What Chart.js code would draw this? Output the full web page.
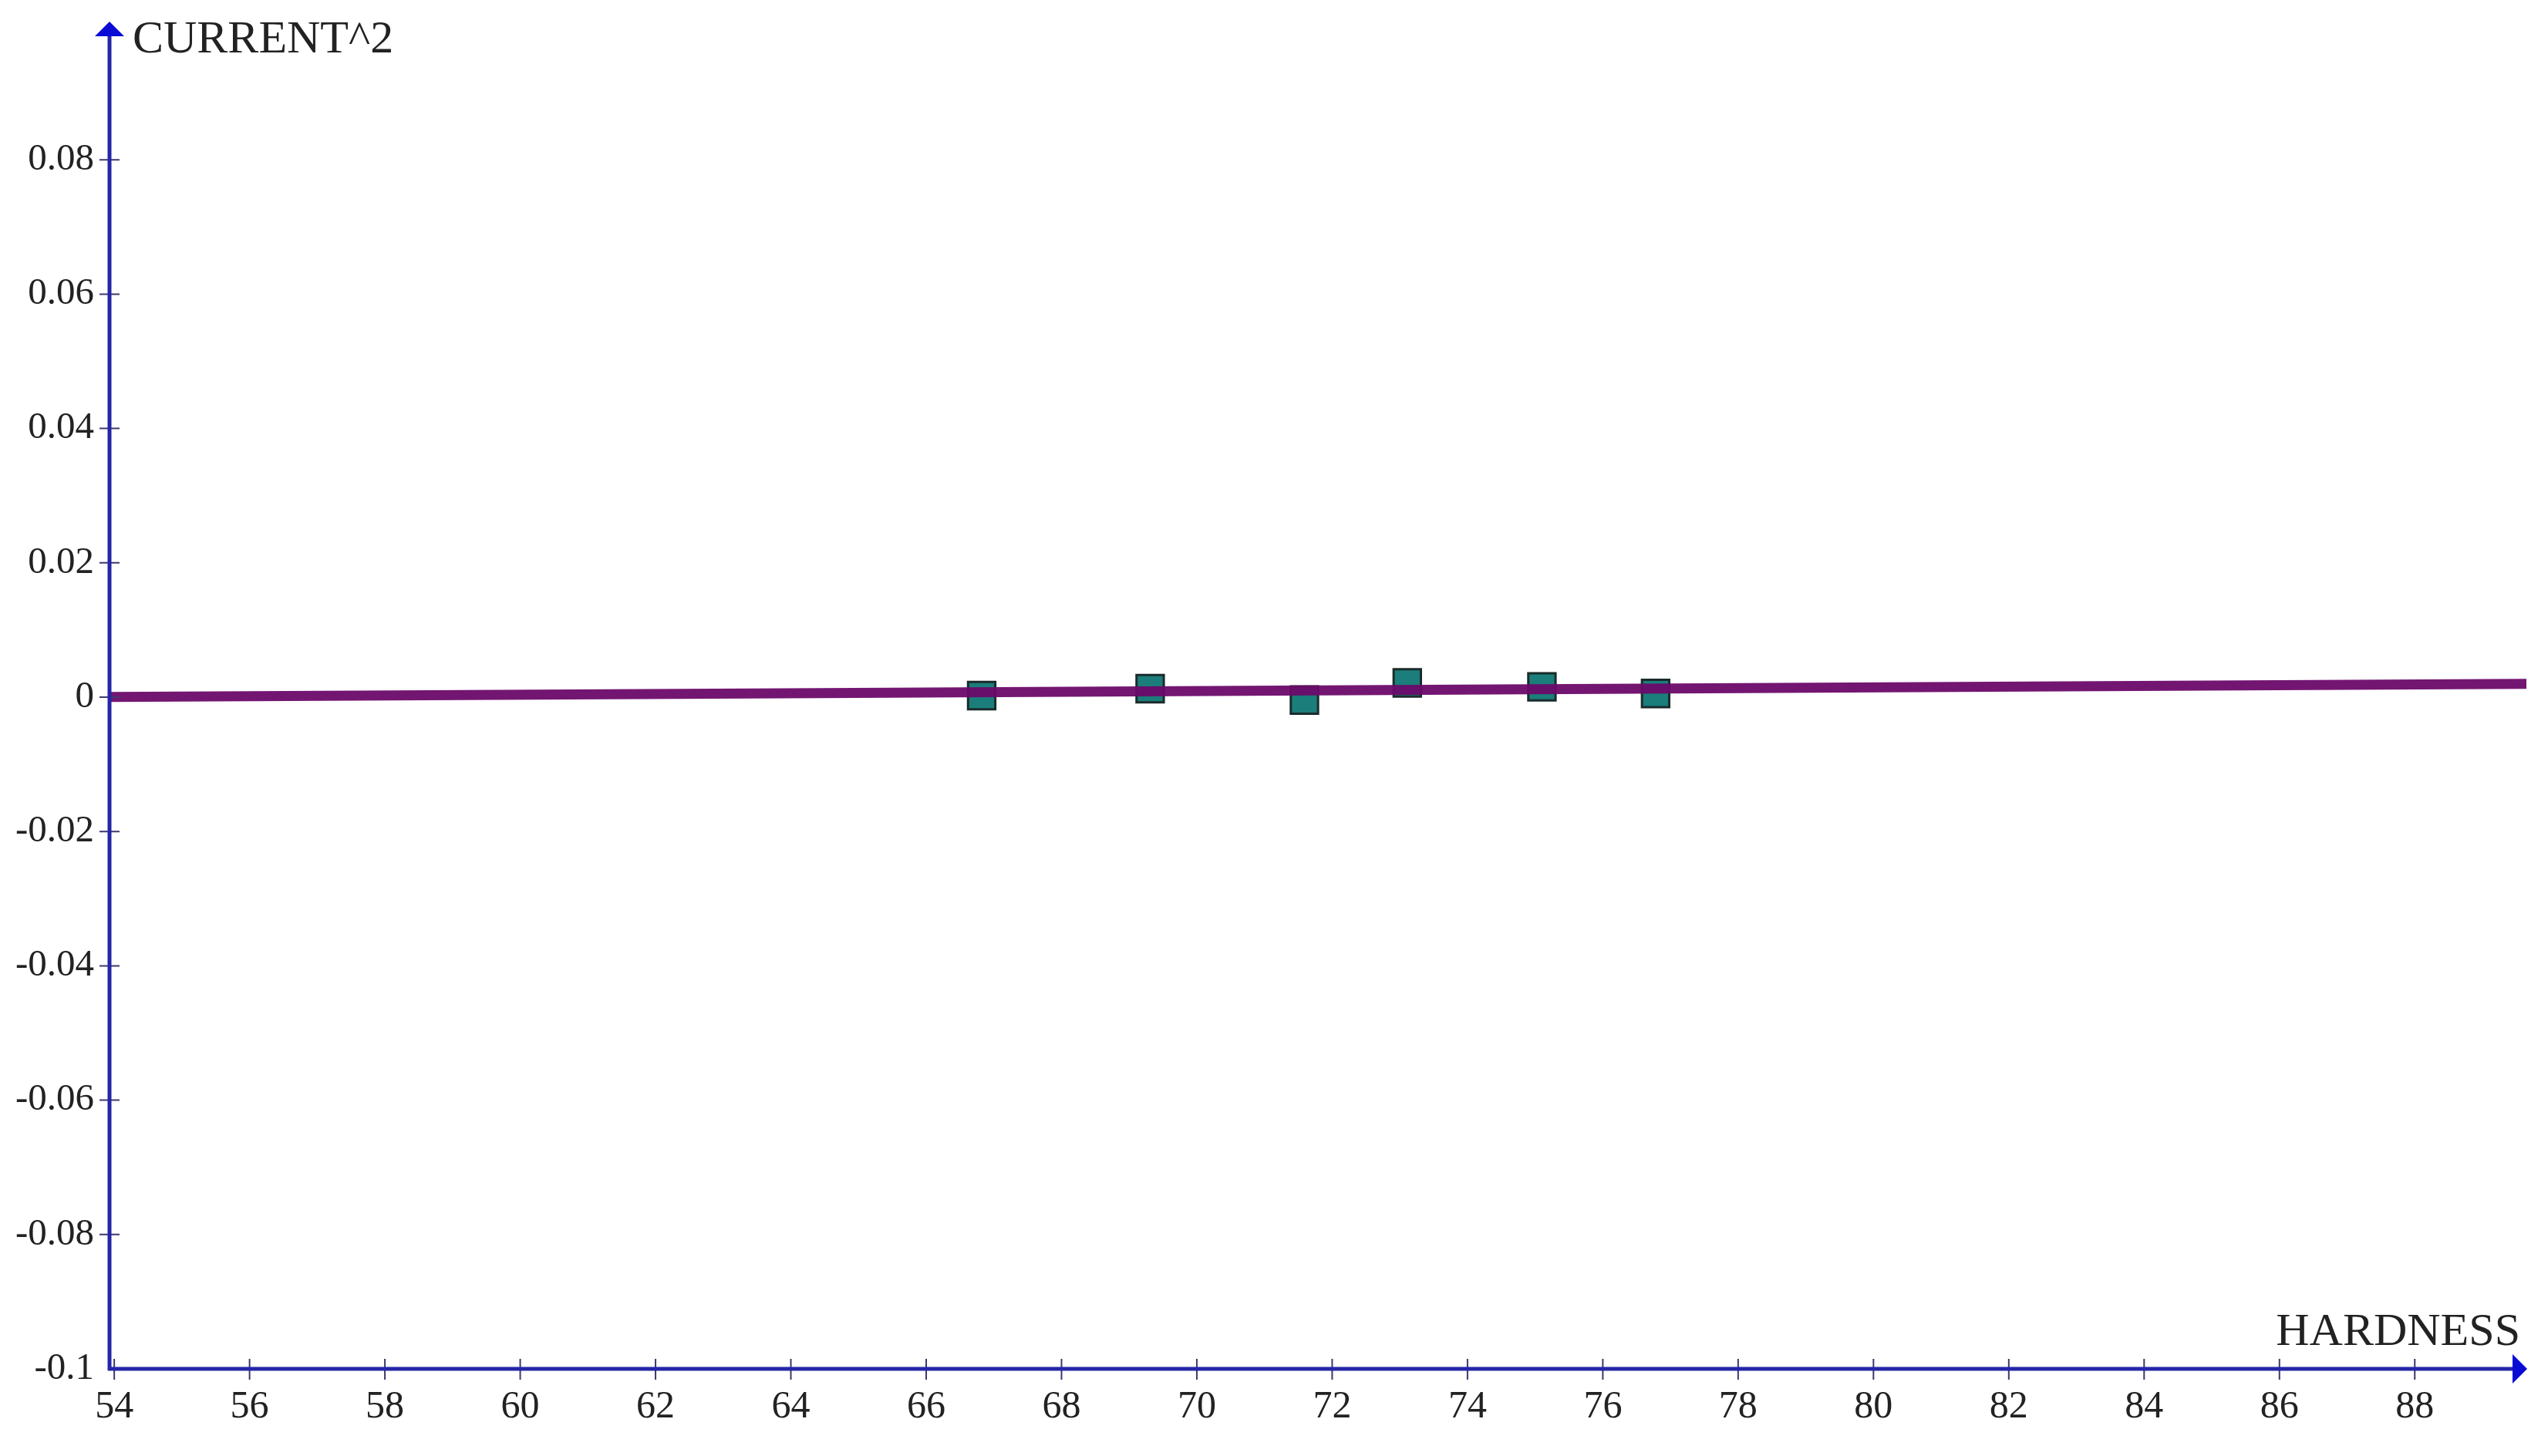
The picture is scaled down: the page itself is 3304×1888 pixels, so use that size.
<!DOCTYPE html>
<html>
<head>
<meta charset="utf-8">
<script src="https://cdn.jsdelivr.net/npm/chart.js@4"></script>
<style>
  html, body { margin: 0; padding: 0; background: #fff; }
  #chartCanvas { display: block; }
</style>
</head>
<body>
<canvas id="chartCanvas" width="3304" height="1888"></canvas>
<script>
// measured points
var hardness = [66.82, 69.31, 71.59, 73.11, 75.10, 76.78];
var current2 = [0.00023, 0.00126, -0.00043, 0.00213, 0.00153, 0.00054];

// fitted line, read at both ends of the axis
var fitX = [53.93, 89.65];
var fitY = [0.00003, 0.00199];

var xTicks = [54, 56, 58, 60, 62, 64, 66, 68, 70, 72, 74, 76, 78, 80, 82, 84, 86, 88];
var yTicks = [-0.1, -0.08, -0.06, -0.04, -0.02, 0, 0.02, 0.04, 0.06, 0.08];

var axisColor = '#2525a8';
var arrowColor = '#0b0bd6';
var tickColor = '#3a3a70';
var textColor = '#222222';
var fontFamily = '"Liberation Serif", "Times New Roman", serif';

var points = [];
for (var i in hardness) {
	points.push({x: hardness[i], y: current2[i]});
}
var fitLine = [];
for (var j in fitX) {
	fitLine.push({x: fitX[j], y: fitY[j]});
}

// arrows, crossing tick marks and axis names
var axesPlugin = {
	id: 'axesDeco',
	afterDraw: function(chart) {
		var ctx = chart.ctx;
		var xs = chart.scales.x, ys = chart.scales.y;
		var left = chart.chartArea.left, bottom = chart.chartArea.bottom;
		var right = chart.chartArea.right, top = chart.chartArea.top;

		ctx.save();
		ctx.strokeStyle = tickColor;
		ctx.lineWidth = 2;
		ctx.beginPath();
		yTicks.forEach(function(v) {
			if (v === -0.1) return;
			var py = ys.getPixelForValue(v);
			ctx.moveTo(left - 13, py);
			ctx.lineTo(left + 13, py);
		});
		xTicks.forEach(function(v) {
			var px = xs.getPixelForValue(v);
			ctx.moveTo(px, bottom - 13);
			ctx.lineTo(px, bottom + 14);
		});
		ctx.stroke();

		// axis lines
		ctx.strokeStyle = axisColor;
		ctx.lineWidth = 5;
		ctx.beginPath();
		ctx.moveTo(left, bottom + 2);
		ctx.lineTo(left, top - 2);
		ctx.moveTo(left - 2, bottom);
		ctx.lineTo(right - 4, bottom);
		ctx.stroke();

		// arrow heads
		ctx.fillStyle = arrowColor;
		ctx.beginPath();
		ctx.moveTo(left, top - 5);
		ctx.lineTo(left - 19, top + 14);
		ctx.lineTo(left + 19, top + 14);
		ctx.closePath();
		ctx.fill();
		ctx.beginPath();
		ctx.moveTo(right + 1, bottom);
		ctx.lineTo(right - 18, bottom - 19);
		ctx.lineTo(right - 18, bottom + 19);
		ctx.closePath();
		ctx.fill();

		// axis names
		ctx.fillStyle = textColor;
		ctx.font = '60px ' + fontFamily;
		ctx.textBaseline = 'alphabetic';
		ctx.textAlign = 'left';
		ctx.fillText('CURRENT^2', left + 30, 68);
		ctx.textAlign = 'right';
		ctx.fillText('HARDNESS', right - 8, bottom - 31);
		ctx.restore();
	}
};

var ctx = document.getElementById('chartCanvas');

var chart = new Chart(ctx, {
	type: 'scatter',
	data: {
		datasets: [
		{
			type: 'line',
			label: 'fit',
			data: fitLine,
			borderColor: 'rgba(108,10,106,0.95)',
			borderWidth: 13,
			pointRadius: 0,
			fill: false,
			order: 0
		},
		{
			label: 'CURRENT^2',
			data: points,
			pointStyle: 'rect',
			pointRadius: 25,
			pointHoverRadius: 25,
			backgroundColor: '#1b7e7b',
			borderColor: '#1b2b2b',
			borderWidth: 3,
			order: 1
		}
		]
	},
	options: {
		responsive: false,
		animation: false,
		events: [],
		layout: {padding: {top: 33, right: 26, left: 0, bottom: 0}},
		plugins: {
			legend: {display: false},
			tooltip: {enabled: false}
		},
		scales: {
			x: {
				type: 'linear',
				min: 53.93,
				max: 89.65,
				afterBuildTicks: function(scale) {
					scale.ticks = xTicks.map(function(v) { return {value: v}; });
				},
				afterFit: function(scale) {
					scale.height = 113;
					scale.paddingLeft = 0;
					scale.paddingRight = 0;
				},
				grid: {display: false, drawTicks: false},
				border: {display: false},
				ticks: {
					padding: 20,
					color: textColor,
					font: {family: fontFamily, size: 50},
					maxRotation: 0,
					autoSkip: false,
					callback: function(v) { return String(v); }
				}
			},
			y: {
				type: 'linear',
				min: -0.1,
				max: 0.1,
				afterBuildTicks: function(scale) {
					scale.ticks = yTicks.map(function(v) { return {value: v}; });
				},
				afterFit: function(scale) {
					scale.width = 142;
					scale.paddingTop = 0;
					scale.paddingBottom = 0;
				},
				grid: {display: false, drawTicks: false},
				border: {display: false},
				ticks: {
					padding: 20,
					color: textColor,
					font: {family: fontFamily, size: 49},
					autoSkip: false,
					callback: function(v) { return String(Math.round(v * 100) / 100); }
				}
			}
		}
	},
	plugins: [axesPlugin]
});
</script>
</body>
</html>
